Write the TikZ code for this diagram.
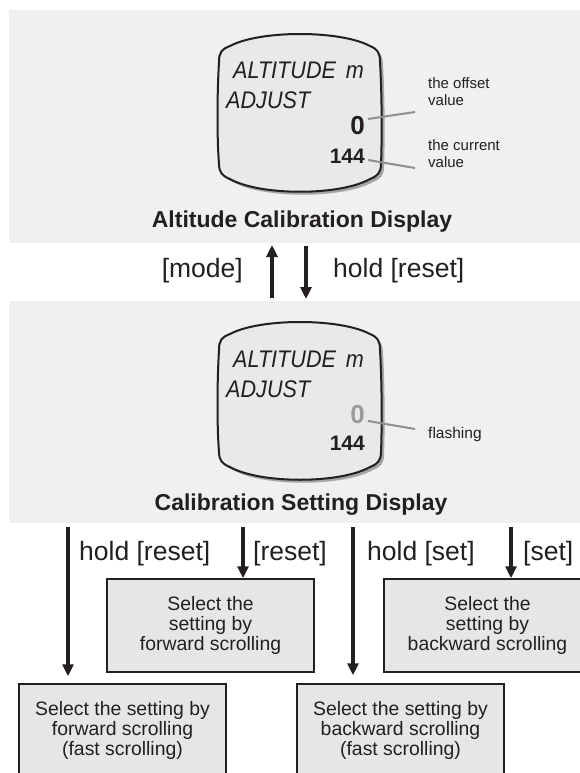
\documentclass[tikz,border=0pt]{standalone}
\usepackage{fontspec}
\setmainfont{Liberation Sans}
\newfontfamily\dispfont[FakeStretch=0.9]{Liberation Sans}
\usetikzlibrary{arrows.meta}
\definecolor{ink}{HTML}{231F20}
\definecolor{panelbg}{HTML}{F0F0F0}
\definecolor{boxbg}{HTML}{E6E6E6}
\definecolor{lcdbg}{HTML}{E8E9E9}
\definecolor{lead}{HTML}{8F8F8F}
\definecolor{shade}{HTML}{A5A5A5}
\definecolor{flash}{HTML}{9B9B9B}
\newcommand\lcdoutline[1]{%
  \path[#1] (219,62) .. controls (219,52) and (222,49) .. (230,46)
   .. controls (260,30) and (340,30) .. (370,46)
   .. controls (377,49) and (380,52) .. (380,62)
   .. controls (382,95) and (382,140) .. (381,164)
   .. controls (381,172) and (378,176) .. (370,179)
   .. controls (340,196) and (260,196) .. (230,179)
   .. controls (222,176) and (219,172) .. (219,164)
   .. controls (217,140) and (217,95) .. (219,62) -- cycle;}
\tikzset{
  panel/.style={fill=panelbg, draw=none},
  lcdtext/.style={inner sep=0, text=ink, font=\dispfont\itshape\fontsize{24}{28}\selectfont},
  bignum/.style={inner sep=0, text=ink, font=\bfseries\fontsize{26}{30}\selectfont},
  smallnum/.style={inner sep=0, text=ink, font=\bfseries\fontsize{21}{25}\selectfont},
  note/.style={inner sep=0, text=ink, align=left, font=\fontsize{15}{17}\selectfont},
  leader/.style={draw=lead, line width=2pt},
  title/.style={inner sep=0, text=ink, font=\bfseries\fontsize{23}{27}\selectfont},
  keylabel/.style={inner sep=0, text=ink, font=\fontsize{26.5}{30}\selectfont},
  flow/.style={draw=ink, line width=3.5pt, -{Triangle[length=12pt,width=11pt]}},
  actbox/.style={draw=ink, line width=1.5pt, fill=boxbg, minimum width=207pt,
     inner sep=0, text=ink, align=center, font=\fontsize{19.4}{20}\selectfont},
  acttext/.style={inner sep=0, text=ink, align=center, font=\fontsize{19.4}{20}\selectfont}
}
\begin{document}
\begin{tikzpicture}[x=1pt,y=-1pt]
\useasboundingbox (0,0) rectangle (580,773);
\clip (0,0) rectangle (580,773);
\fill[white] (0,0) rectangle (580,773);
% panels
\node[panel, anchor=north west, minimum width=571pt, minimum height=233pt, inner sep=0] (p1) at (9,10) {};
\node[panel, anchor=north west, minimum width=571pt, minimum height=222pt, inner sep=0] (p2) at (9,301) {};
% display 1
\lcdoutline{fill=shade, shift={(3,3)}}
\lcdoutline{fill=lcdbg, draw=ink, line width=2pt}
\node[lcdtext, anchor=base west] (a1) at (233,79) {ALTITUDE\hspace{4pt} m};
\node[lcdtext, anchor=base west] (j1) at (226,109) {ADJUST};
\node[bignum, anchor=base east] (o1) at (365,135) {0};
\node[smallnum, anchor=base east] (c1) at (365,163) {144};
\coordinate (lo1a) at (368,119); \coordinate (lo1b) at (415,112);
\coordinate (lc1a) at (368,160); \coordinate (lc1b) at (415,168);
\draw[leader] (lo1a) -- (lo1b);
\draw[leader] (lc1a) -- (lc1b);
\node[note, anchor=base west] (n1) at (428,106) {the offset\\value};
\node[note, anchor=base west] (n2) at (428,167) {the current\\value};
\node[title, anchor=base] (t1) at (302,227) {Altitude Calibration Display};
% display 2
\begin{scope}[shift={(0,288)}]
\lcdoutline{fill=shade, shift={(3,3)}}
\lcdoutline{fill=lcdbg, draw=ink, line width=2pt}
\node[lcdtext, anchor=base west] (a2) at (233,79) {ALTITUDE\hspace{4pt} m};
\node[lcdtext, anchor=base west] (j2) at (226,109) {ADJUST};
\node[bignum, anchor=base east, text=flash] (o2) at (365,135) {0};
\node[smallnum, anchor=base east] (c2) at (365,162) {144};
\coordinate (lf2a) at (368,133); \coordinate (lf2b) at (415,141);
\draw[leader] (lf2a) -- (lf2b);
\node[note, anchor=base west, font=\fontsize{15.5}{17}\selectfont] (n3) at (428,150) {flashing};
\end{scope}
\node[title, anchor=base] (t2) at (301,510) {Calibration Setting Display};
% arrows between panels
\coordinate (up0) at (272,298); \coordinate (up1) at (272,245);
\coordinate (dn0) at (306,246); \coordinate (dn1) at (306,299);
\draw[flow] (up0) -- (up1);
\draw[flow] (dn0) -- (dn1);
\node[keylabel, anchor=base east] (kmode) at (243,277) {[mode]};
\node[keylabel, anchor=base west] (khr) at (333,277) {hold [reset]};
% action boxes
\node[actbox, minimum height=93pt] (b1) at (210.5,625.5) {Select the\\setting by\\forward scrolling};
\node[actbox, minimum width=240pt, minimum height=93pt] (b2) at (504,625.5) {};
\node[acttext] (b2t) at (487.5,625.5) {Select the\\setting by\\backward scrolling};
\node[actbox, minimum height=92pt] (b3) at (122.5,730) {Select the setting by\\forward scrolling\\(fast scrolling)};
\node[actbox, minimum height=92pt] (b4) at (400.5,730) {Select the setting by\\backward scrolling\\(fast scrolling)};
% arrows from panel 2
\coordinate (s1) at (68,527); \coordinate (s2) at (243,527);
\coordinate (s3) at (353,527); \coordinate (s4) at (511,527);
\draw[flow, shorten >=7pt] (s1) -- (s1 |- b3.north);
\draw[flow] (s2) -- (s2 |- b1.north);
\draw[flow, shorten >=8pt] (s3) -- (s3 |- b4.north);
\draw[flow] (s4) -- (s4 |- b2.north);
\node[keylabel, anchor=base west] (l1) at (79,560) {hold [reset]};
\node[keylabel, anchor=base west] (l2) at (253,560) {[reset]};
\node[keylabel, anchor=base west] (l3) at (367,560) {hold [set]};
\node[keylabel, anchor=base west] (l4) at (523,560) {[set]};
\end{tikzpicture}
\end{document}
